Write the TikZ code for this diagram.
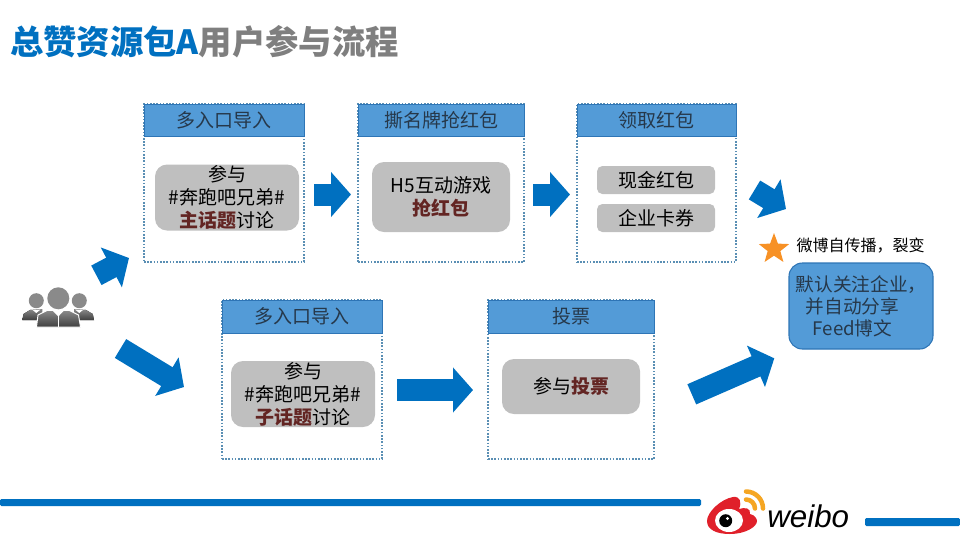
\documentclass[tikz,border=0pt]{standalone}
\usepackage{fontspec}
\usepackage{xcolor}
\setmainfont{Noto Sans CJK SC}
\newfontfamily\logofont{Liberation Sans}
\usetikzlibrary{arrows.meta}
\usetikzlibrary{shapes.geometric}
\definecolor{weiboblue}{HTML}{0070C0}
\definecolor{headblue}{HTML}{539BD7}
\definecolor{headline}{HTML}{2E75B6}
\definecolor{dotblue}{HTML}{5A8FB4}
\definecolor{panelgrey}{HTML}{BFBFBF}
\definecolor{darkred}{HTML}{632523}
\definecolor{headtext}{HTML}{26384A}
\definecolor{titlegrey}{HTML}{7F7F7F}
\definecolor{starorange}{HTML}{F79125}
\definecolor{logored}{HTML}{E0202A}
\definecolor{logoorange}{HTML}{F5A623}
\definecolor{figtop}{HTML}{8A8A8A}
\definecolor{figbottom}{HTML}{3F3F3F}
\newcommand{\hot}[1]{\textbf{\textcolor{darkred}{#1}}}

\begin{document}
\begin{tikzpicture}[x=.75pt,y=-.75pt,
      boxsize/.style 2 args={minimum width=#1*.75pt,minimum height=#2*.75pt},
      stagebox/.style={draw=dotblue,line width=1.1pt,dash pattern=on 1.2pt off 1.2pt,inner sep=0pt},
      headbox/.style={draw=headline,line width=.7pt,fill=headblue,inner sep=0pt,text=headtext,
        font=\fontsize{14.25}{17}\selectfont},
      greybox/.style={fill=panelgrey,rounded corners=9pt,inner sep=0pt,align=center,
        font=\fontsize{14.25}{17.25}\selectfont},
      smallgrey/.style={greybox,rounded corners=4pt},
      blockarrow/.style={draw=weiboblue,line width=16.5pt,
        -{Triangle[length=15pt,width=33pt,fill=weiboblue]}},
      figure/.style={top color=figtop,bottom color=figbottom},
      wave/.style={draw=logoorange,line width=3.4pt,line cap=round}]
  \useasboundingbox (0,0) rectangle (960,540);

  % title
  \node[anchor=west,inner sep=0pt,font=\fontsize{25}{30}\selectfont\bfseries] (title) at (10,42)
    {\textcolor{weiboblue}{总赞资源包A}\textcolor{titlegrey}{用户参与流程}};

  % upper row
  \node[stagebox,boxsize={160}{158}] (entry) at (224,183) {};
  \node[headbox,boxsize={160}{32}] (entryhead) at (224,120) {多入口导入};
  \node[greybox,boxsize={144}{66}] (entrytext) at (227,197.5)
    {参与\\\#奔跑吧兄弟\#\\\hot{主话题}讨论};

  \node[stagebox,boxsize={166}{158}] (game) at (441,183) {};
  \node[headbox,boxsize={166}{32}] (gamehead) at (441,120) {撕名牌抢红包};
  \node[greybox,boxsize={138}{70}] (gametext) at (441,197)
    {H5互动游戏\\\hot{抢红包}};

  \node[stagebox,boxsize={159}{158}] (prize) at (656.5,183) {};
  \node[headbox,boxsize={159}{32}] (prizehead) at (656.5,120) {领取红包};
  \node[smallgrey,boxsize={118}{28}] (cash) at (656,180) {现金红包};
  \node[smallgrey,boxsize={118}{28}] (card) at (656,218) {企业卡券};

  % lower row
  \node[stagebox,boxsize={160}{159}] (subentry) at (302,379.5) {};
  \node[headbox,boxsize={160}{33}] (subentryhead) at (302,316.5) {多入口导入};
  \node[greybox,boxsize={144}{66}] (subentrytext) at (303,394)
    {参与\\\#奔跑吧兄弟\#\\\hot{子话题}讨论};

  \node[stagebox,boxsize={166}{159}] (vote) at (571,379.5) {};
  \node[headbox,boxsize={166}{33}] (votehead) at (571,316.5) {投票};
  \node[greybox,boxsize={138}{55}] (votetext) at (571,386.5) {参与\hot{投票}};

  % result
  \node[star,star points=5,star point ratio=2.4,fill=starorange,inner sep=0pt,
    minimum size=32*.75pt] (mark) at (774,249) {};
  \node[inner sep=0pt,font=\fontsize{12}{14}\selectfont] (spread) at (860.5,246) {微博自传播，裂变};
  \node[draw=headline,line width=.8pt,fill=headblue,rounded corners=10pt,inner sep=0pt,align=left,
    text=headtext,boxsize={144}{86},font=\fontsize{14}{16.5}\selectfont] (result) at (861,306)
    {默认关注企业，\\\hspace*{7.5pt}并自动分享\\\hspace*{12.75pt}Feed博文};

  % arrows
  \coordinate (a1) at (96.4,275.3);
  \coordinate (a2) at (129,258);
  \coordinate (b1) at (120.5,348.5);
  \coordinate (b2) at (184,387);
  \coordinate (c1) at (314,194.5);
  \coordinate (c2) at (351,194.5);
  \coordinate (d1) at (533,194.5);
  \coordinate (d2) at (570,194.5);
  \coordinate (e1) at (754.5,190);
  \coordinate (e2) at (786,209);
  \coordinate (f1) at (397,390);
  \coordinate (f2) at (473,390);
  \coordinate (g1) at (691.8,394.3);
  \coordinate (g2) at (774.3,358.3);
  \draw[blockarrow] (a1) -- (a2);
  \draw[blockarrow] (b1) -- (b2);
  \draw[blockarrow] (c1) -- (c2);
  \draw[blockarrow] (d1) -- (d2);
  \draw[blockarrow] (e1) -- (e2);
  \draw[blockarrow] (f1) -- (f2);
  \draw[blockarrow] (g1) -- (g2);

  % people
  \fill[figure] (22.3,320) -- (23.5,314) -- (30,310) -- (42,309) -- (42,320) -- cycle;
  \fill[figure] (94,320) -- (92.8,314) -- (86,310) -- (74,309) -- (74,320) -- cycle;
  \fill[white] (32,309.5) -- (36.3,313) -- (40.5,309.5) -- cycle;
  \fill[white] (75,309.5) -- (79.3,313) -- (83.5,309.5) -- cycle;
  \fill[figtop] (36.3,300.7) circle (7.5) (79.3,300.7) circle (7.5);
  \draw[white,line width=.7pt,figure] (36.5,327) -- (38,315) -- (47,310.5) -- (69.5,310.5)
    -- (78.5,315) -- (80.5,327) -- cycle;
  \fill[white] (51,309) -- (58.3,316.5) -- (65.5,309) -- cycle;
  \fill[white] (57.5,316) rectangle (59.2,327);
  \fill[figtop] (58.3,298.3) circle (11);

  % footer
  \fill[weiboblue,rounded corners=1pt] (0,499) rectangle (701,506);
  \fill[weiboblue,rounded corners=1pt] (865,518) rectangle (960,526);

  % logo
  \fill[logored] (707,521) .. controls (707,512) and (721,499) .. (733,497)
    .. controls (740,496) and (742,502) .. (739,509) .. controls (745,507) and (751,508) .. (750,514)
    .. controls (755,515) and (757,519) .. (757,521) .. controls (757,527) and (745,534) .. (730,534)
    .. controls (717,534) and (707,530) .. (707,521) -- cycle;
  \fill[white] (729,520.5) ellipse (14 and 11.5);
  \fill[black] (725.7,520.7) circle (6.5);
  \fill[white] (727.5,518.5) circle (1.6);
  \draw[wave] (746,491.5) arc (-90:0:17);
  \draw[wave] (746,499.5) arc (-90:0:9);
  \node[anchor=base west,inner sep=0pt,font=\logofont\itshape\fontsize{23.5}{26}\selectfont] (weibo) at (767,527) {weibo};
\end{tikzpicture}
\end{document}
